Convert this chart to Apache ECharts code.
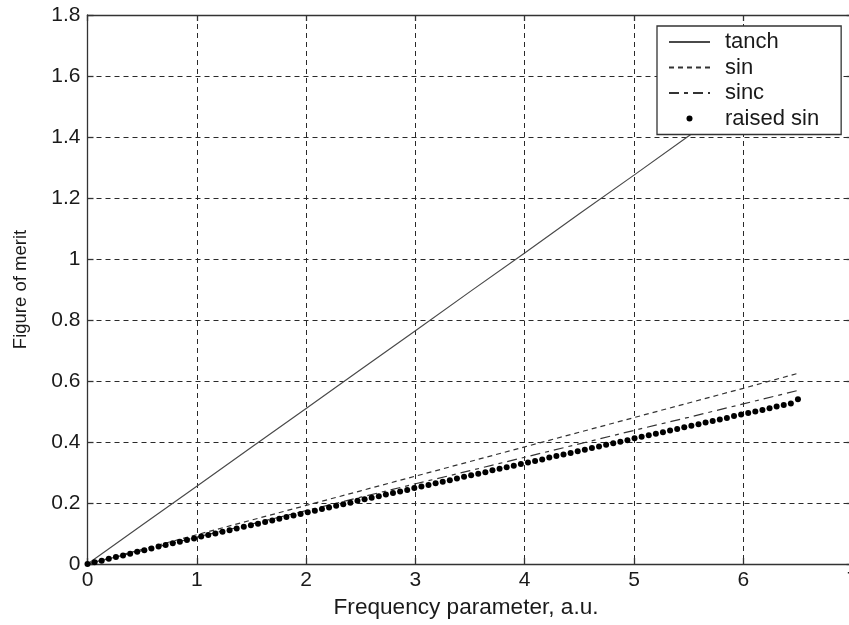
<!DOCTYPE html>
<html>
<head>
<meta charset="utf-8">
<script src="https://cdn.jsdelivr.net/npm/echarts@6/dist/echarts.min.js"></script>
<style>
  html, body { margin: 0; padding: 0; background: #fff; }
  #chart { width: 849px; height: 625px; }
</style>
</head>
<body>
<div id="chart"></div>
<script>
// Frequency parameter samples for the three continuous curves
const xLine = [0, 0.5, 1, 1.5, 2, 2.5, 3, 3.5, 4, 4.5, 5, 5.5, 6, 6.5];
const tanch = [0, 0.128, 0.255, 0.383, 0.510, 0.638, 0.765, 0.893, 1.020, 1.148, 1.275, 1.403, 1.530, 1.658];
const sinV  = [0, 0.048, 0.096, 0.144, 0.192, 0.240, 0.288, 0.336, 0.384, 0.432, 0.480, 0.528, 0.576, 0.625];
const sincV = [0, 0.044, 0.088, 0.131, 0.175, 0.219, 0.263, 0.306, 0.350, 0.394, 0.438, 0.481, 0.525, 0.569];

// Raised-sine window, plotted as dense markers
const raisedX = [
  0, 0.065, 0.13, 0.195, 0.26, 0.325, 0.39, 0.455, 0.52, 0.585,
  0.65, 0.715, 0.78, 0.845, 0.91, 0.975, 1.04, 1.105, 1.17, 1.235,
  1.3, 1.365, 1.43, 1.495, 1.56, 1.625, 1.69, 1.755, 1.82, 1.885,
  1.95, 2.015, 2.08, 2.145, 2.21, 2.275, 2.34, 2.405, 2.47, 2.535,
  2.6, 2.665, 2.73, 2.795, 2.86, 2.925, 2.99, 3.055, 3.12, 3.185,
  3.25, 3.315, 3.38, 3.445, 3.51, 3.575, 3.64, 3.705, 3.77, 3.835,
  3.9, 3.965, 4.03, 4.095, 4.16, 4.225, 4.29, 4.355, 4.42, 4.485,
  4.55, 4.615, 4.68, 4.745, 4.81, 4.875, 4.94, 5.005, 5.07, 5.135,
  5.2, 5.265, 5.33, 5.395, 5.46, 5.525, 5.59, 5.655, 5.72, 5.785,
  5.85, 5.915, 5.98, 6.045, 6.11, 6.175, 6.24, 6.305, 6.37, 6.435, 6.5
];
const raisedY = [
  0, 0.006, 0.011, 0.017, 0.023, 0.028, 0.034, 0.040, 0.045, 0.051,
  0.057, 0.062, 0.068, 0.073, 0.079, 0.084, 0.090, 0.095, 0.100, 0.106,
  0.111, 0.116, 0.122, 0.127, 0.132, 0.138, 0.143, 0.148, 0.154, 0.159,
  0.164, 0.170, 0.175, 0.180, 0.185, 0.191, 0.196, 0.201, 0.207, 0.212,
  0.217, 0.222, 0.228, 0.233, 0.238, 0.243, 0.249, 0.254, 0.259, 0.265,
  0.270, 0.275, 0.280, 0.286, 0.291, 0.296, 0.301, 0.307, 0.312, 0.317,
  0.322, 0.328, 0.333, 0.338, 0.343, 0.349, 0.354, 0.359, 0.364, 0.370,
  0.375, 0.380, 0.385, 0.391, 0.396, 0.401, 0.406, 0.412, 0.417, 0.422,
  0.427, 0.432, 0.438, 0.443, 0.448, 0.453, 0.458, 0.464, 0.469, 0.474,
  0.479, 0.485, 0.490, 0.495, 0.500, 0.505, 0.511, 0.516, 0.521, 0.526, 0.540
];

const xTicks = [0, 1, 2, 3, 4, 5, 6, 7];
const yTicks = [0, 0.2, 0.4, 0.6, 0.8, 1, 1.2, 1.4, 1.6, 1.8];

const FONT = '"Liberation Sans", Arial, Helvetica, sans-serif';
const INK = '#1a1a1a';
const AXIS = '#333';

const pairs = (xs, ys) => xs.map((x, i) => [x, ys[i]]);

const gridDash = { type: [5, 4], color: '#2a2a2a', width: 1 };
const hideMarker = { opacity: 0 };

const chart = echarts.init(document.getElementById('chart'), null, { renderer: 'canvas' });

chart.setOption({
  backgroundColor: '#fff',
  animation: false,
  grid: { left: 87.5, right: -3.6, top: 15, bottom: 61, outerBoundsMode: 'none', containLabel: false },
  xAxis: [
    {
      type: 'value', position: 'bottom',
      min: xTicks[0], max: xTicks[xTicks.length - 1], interval: 1,
      name: 'Frequency parameter, a.u.', nameLocation: 'middle', nameGap: 31,
      nameTextStyle: { fontFamily: FONT, fontSize: 22.6, color: INK, padding: [0, 8, 0, 0] },
      axisLine: { show: true, onZero: false, lineStyle: { color: AXIS, width: 1.3 } },
      axisTick: { show: true, inside: true, length: 6, lineStyle: { color: AXIS, width: 1.3 } },
      axisLabel: { fontFamily: FONT, fontSize: 21, color: INK, margin: 6, showMaxLabel: true },
      splitLine: { show: true, lineStyle: gridDash }
    },
    {
      type: 'value', position: 'top',
      min: xTicks[0], max: xTicks[xTicks.length - 1], interval: 1,
      axisLine: { show: true, onZero: false, lineStyle: { color: AXIS, width: 1.3 } },
      axisTick: { show: true, inside: true, length: 6, lineStyle: { color: AXIS, width: 1.3 } },
      axisLabel: { show: false },
      splitLine: { show: false }
    }
  ],
  yAxis: [
    {
      type: 'value', position: 'left',
      min: yTicks[0], max: yTicks[yTicks.length - 1], interval: 0.2,
      name: 'Figure of merit', nameLocation: 'middle', nameGap: 57,
      nameTextStyle: { fontFamily: FONT, fontSize: 18.5, color: INK },
      axisLine: { show: true, onZero: false, lineStyle: { color: AXIS, width: 1.3 } },
      axisTick: { show: true, inside: true, length: 6, lineStyle: { color: AXIS, width: 1.3 } },
      axisLabel: { fontFamily: FONT, fontSize: 21, color: INK, margin: 7 },
      splitLine: { show: true, lineStyle: gridDash }
    },
    {
      type: 'value', position: 'right',
      min: yTicks[0], max: yTicks[yTicks.length - 1], interval: 0.2,
      axisLine: { show: true, onZero: false, lineStyle: { color: AXIS, width: 1.3 } },
      axisTick: { show: true, inside: true, length: 6, lineStyle: { color: AXIS, width: 1.3 } },
      axisLabel: { show: false },
      splitLine: { show: false }
    }
  ],
  legend: {
    orient: 'vertical',
    left: 657, top: 26,
    backgroundColor: '#fff',
    borderColor: AXIS, borderWidth: 1.3, borderRadius: 0,
    padding: [5, 22, 5, 11],
    itemWidth: 41, itemHeight: 6, itemGap: 3.5,
    textStyle: { fontFamily: FONT, fontSize: 22, lineHeight: 22, color: INK, padding: [0, 0, 0, 10] },
    data: [
      { name: 'tanch', itemStyle: hideMarker },
      { name: 'sin', itemStyle: hideMarker },
      { name: 'sinc', itemStyle: hideMarker },
      { name: 'raised sin' }
    ]
  },
  series: [
    {
      name: 'tanch', type: 'line', data: pairs(xLine, tanch),
      symbol: 'none', lineStyle: { color: '#4a4a4a', width: 1.2 }, itemStyle: { color: '#4a4a4a' }, z: 2
    },
    {
      name: 'sin', type: 'line', data: pairs(xLine, sinV),
      symbol: 'none', lineStyle: { color: '#333', width: 1.2, type: [5, 4] }, itemStyle: { color: '#333' }, z: 2
    },
    {
      name: 'sinc', type: 'line', data: pairs(xLine, sincV),
      symbol: 'none', lineStyle: { color: '#333', width: 1.2, type: [10, 5, 4, 5] }, itemStyle: { color: '#333' }, z: 2
    },
    {
      name: 'raised sin', type: 'scatter', data: pairs(raisedX, raisedY),
      symbol: 'circle', symbolSize: 6, itemStyle: { color: '#000', opacity: 1 }, z: 3
    }
  ]
});
</script>
</body>
</html>
